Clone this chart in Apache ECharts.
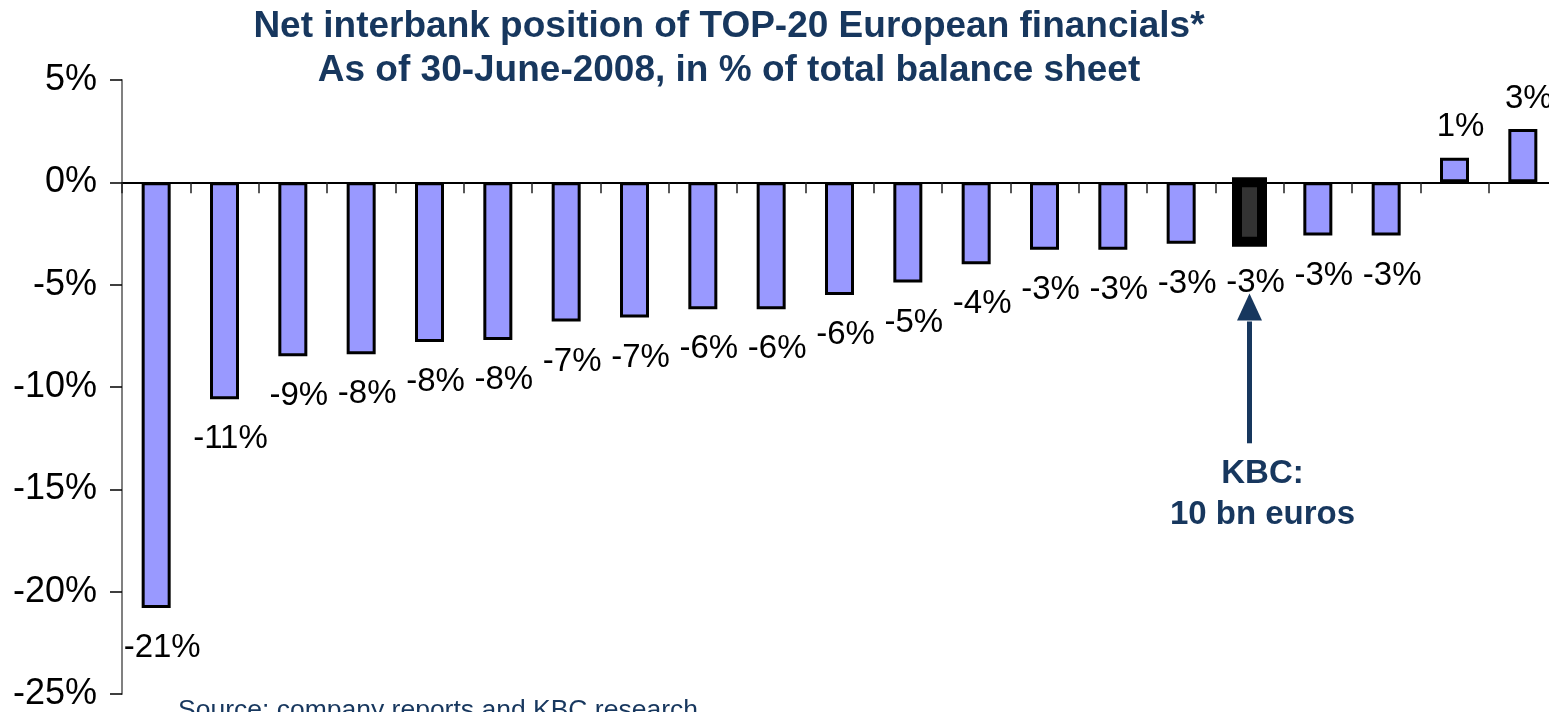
<!DOCTYPE html>
<html><head><meta charset="utf-8">
<script src="https://cdn.jsdelivr.net/npm/echarts@6/dist/echarts.min.js"></script>
<style>html,body{margin:0;padding:0;background:#fff}#c{width:1549px;height:712px}</style>
</head><body><div id="c"></div>
<script>
// ---- data ----
const categories = ['Bank 1','Bank 2','Bank 3','Bank 4','Bank 5','Bank 6','Bank 7','Bank 8','Bank 9','Bank 10',
  'Bank 11','Bank 12','Bank 13','Bank 14','Bank 15','Bank 16','KBC','Bank 18','Bank 19','Bank 20','Bank 21'];
const values = [-20.8, -10.6, -8.5, -8.4, -7.8, -7.7, -6.8, -6.6, -6.2, -6.2,
  -5.5, -4.9, -4.0, -3.3, -3.3, -3.0, -2.9, -2.6, -2.6, 1.2, 2.6];
const highlight = 'KBC';
const yMin = -25, yMax = 5, yStep = 5;
const titleLines = ['Net interbank position of TOP-20 European financials*', 'As of 30-June-2008, in % of total balance sheet'];
const annotationLines = ['KBC:', '10 bn euros'];
const sourceText = 'Source: company reports and KBC research';

// ---- chart ----
const FONT = '"Liberation Sans", Arial, Helvetica, sans-serif';
const NAVY = '#17375E';
function fmt(v) { return (v < 0 ? '-' : '') + Math.round(Math.abs(v)) + '%'; }

const kIdx = categories.indexOf(highlight);
const chart = echarts.init(document.getElementById('c'), null, { renderer: 'canvas' });
const barData = values.map((v, i) => {
  if (i === kIdx) return '-';
  return { value: v, label: { position: v < 0 ? 'bottom' : 'top', distance: v < 0 ? 23.5 : 14 } };
});

chart.setOption({
  animation: false,
  grid: { left: 122, top: 80, width: 1435, height: 614, containLabel: false, outerBoundsMode: 'none' },
  xAxis: {
    type: 'category', data: categories, boundaryGap: true,
    axisLine: { show: true, onZero: true, lineStyle: { color: '#000', width: 2 } },
    axisTick: { show: true, length: 11, interval: 0, lineStyle: { color: '#222', width: 1.5 } },
    axisLabel: { show: false }, splitLine: { show: false }
  },
  yAxis: {
    type: 'value', min: yMin, max: yMax, interval: yStep,
    axisLine: { show: true, lineStyle: { color: '#808080', width: 2 } },
    axisTick: { show: true, length: 12, lineStyle: { color: '#000', width: 1.5 } },
    axisLabel: { formatter: v => v + '%', fontSize: 36, color: '#000', fontFamily: FONT, margin: 25 },
    splitLine: { show: false }
  },
  series: [{
    type: 'bar', data: barData, barWidth: 29,
    itemStyle: { color: '#9999FF', borderColor: '#000', borderWidth: 3 },
    label: { show: true, formatter: p => fmt(p.value), fontSize: 33, color: '#000', fontFamily: FONT, offset: [6, 0] }
  }, {
    type: 'custom', coordinateSystem: 'cartesian2d',
    data: [[kIdx, values[kIdx]]],
    encode: { x: 0, y: 1 },
    renderItem: function (params, api) {
      const base = api.coord([api.value(0), 0]);
      const end = api.coord([api.value(0), api.value(1)]);
      const w = 25;
      return {
        type: 'rect',
        shape: { x: base[0] - w / 2, y: base[1], width: w, height: end[1] - base[1] },
        style: { fill: '#333333', stroke: '#000', lineWidth: 10 },
        textContent: { style: { text: fmt(api.value(1)), font: '33px ' + FONT, fill: '#000' } },
        textConfig: { position: 'bottom', distance: 20, offset: [6, 0] }
      };
    }
  }]
});

// ---- annotations ----
const px = v => chart.convertToPixel({ xAxisIndex: 0, yAxisIndex: 0 }, [kIdx, v]);
const shaftBottom = px(-12.75), headBase = px(-6.75), tip = px(-5.43);
const ax = shaftBottom[0];
const t1 = px(-14.27), t2 = px(-16.27);

chart.setOption({
  graphic: { elements: [
    { type: 'text', style: { text: titleLines[0], x: 729, y: 27, align: 'center', verticalAlign: 'middle',
      font: 'bold 37px ' + FONT, fill: NAVY } },
    { type: 'text', style: { text: titleLines[1], x: 729, y: 71, align: 'center', verticalAlign: 'middle',
      font: 'bold 37px ' + FONT, fill: NAVY } },
    { type: 'line', shape: { x1: ax, y1: shaftBottom[1], x2: ax, y2: headBase[1] + 1 },
      style: { stroke: NAVY, lineWidth: 5 } },
    { type: 'polygon', shape: { points: [[ax, tip[1]], [ax - 12.5, headBase[1]], [ax + 12.5, headBase[1]]] },
      style: { fill: NAVY } },
    { type: 'text', style: { text: annotationLines[0], x: ax + 13, y: t1[1], align: 'center', verticalAlign: 'middle',
      font: 'bold 33px ' + FONT, fill: NAVY } },
    { type: 'text', style: { text: annotationLines[1], x: ax + 13, y: t2[1], align: 'center', verticalAlign: 'middle',
      font: 'bold 33px ' + FONT, fill: NAVY } },
    { type: 'text', style: { text: sourceText, x: 178, y: 711, align: 'left', verticalAlign: 'middle',
      font: '26.5px ' + FONT, fill: NAVY } }
  ] }
});
</script>
</body></html>
